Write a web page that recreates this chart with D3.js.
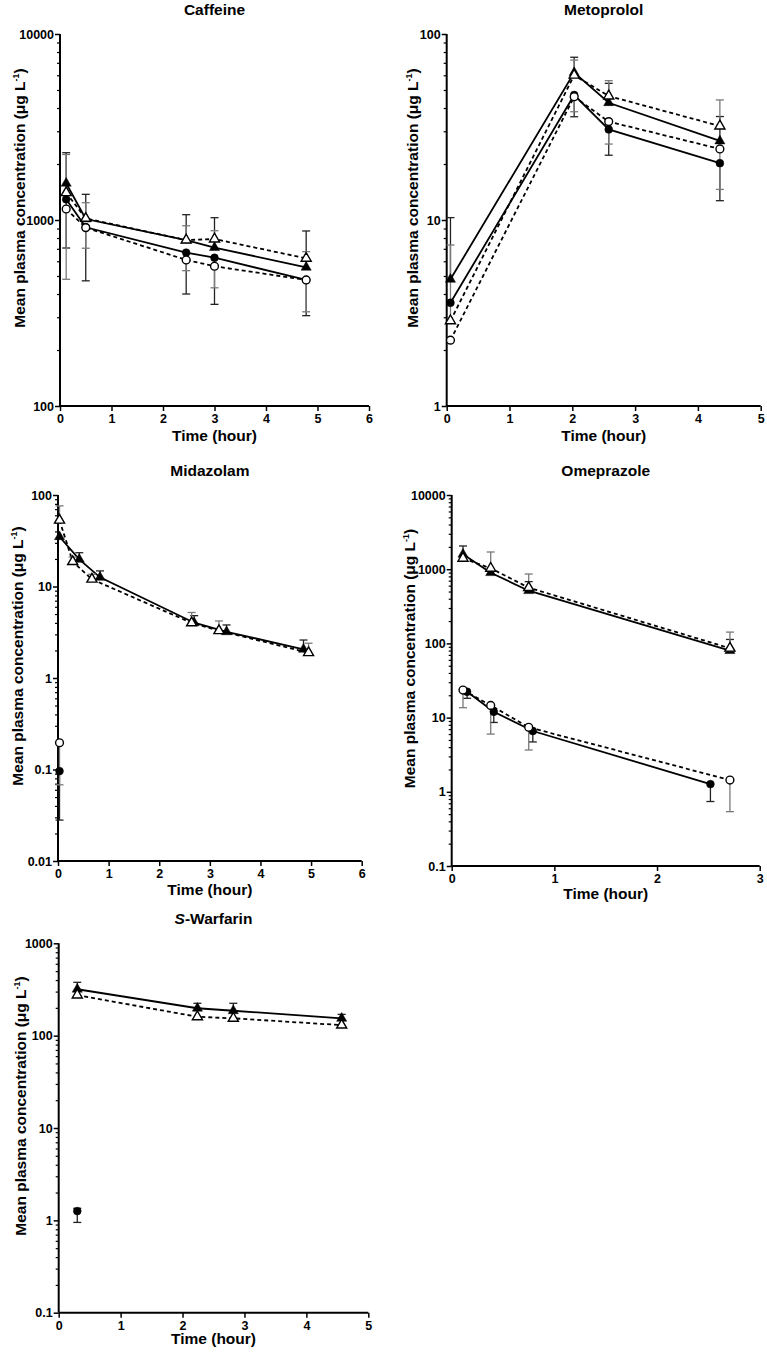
<!DOCTYPE html>
<html><head><meta charset="utf-8">
<script src="https://cdn.jsdelivr.net/npm/d3@7"></script>
<style>body{margin:0;background:#fff}svg{display:block}text{font-family:"Liberation Sans",Arial,sans-serif;font-weight:bold;fill:#000}</style>
</head><body><svg id="c" width="767" height="1352"></svg>
<script>
// ---------- DATA ----------
// Caffeine
const cafT = [0.12, 0.5, 2.45, 3.0, 4.78];
const cafFC = [1292, 914, 668, 627, 476];
const cafOC = [1146, 910, 610, 564, 476];
const cafFT = [1575, 1012, 780, 710, 557];
const cafOT = [1402, 1020, 780, 790, 622];
const cafFTHi = [2300, 1374, 1068, 1029, 873];
const cafOTHi = [2250, 1239, 931, 876, 676];
const cafFCLo = [707, 471, 400, 352, 306];
const cafOCLo = [480, 705, 534, 432, 321];
// Metoprolol
const metT = [0.06, 2.03, 2.58, 4.35];
const metFC = [3.59, 47, 30.7, 20.2];
const metOC = [2.26, 46, 33.8, 24.1];
const metFT = [4.8, 62, 42.7, 26.6];
const metOT = [2.87, 60, 46.4, 32];
const metFTHi = [10.3, 75, 54.3, 36];
const metOTHi = [7.34, 72.4, 56.1, 44.2];
const metFCLo = [null, 35.9, 22.3, 12.7];
const metOCLo = [null, 38.2, 25.6, 14.6];
// Midazolam
const midFTT = [0.03, 0.42, 0.83, 2.69, 3.33, 4.85];
const midFT = [35, 19.8, 12.6, 4.02, 3.2, 2.06];
const midFTHi = [null, 23.4, 14.8, 4.8, 3.8, 2.6];
const midOTT = [0.03, 0.29, 0.67, 2.64, 3.18, 4.95];
const midOT = [53, 18.7, 12.0, 4.0, 3.29, 1.89];
const midOTHi = [76, 21, 13.6, 5.2, 4.2, 2.4];
const midFCT = [0.03];
const midFC = [0.096];
const midFCLo = [0.028];
const midOCT = [0.03];
const midOC = [0.196];
const midOCLo = [0.068];
// Omeprazole
const omeFTT = [0.11, 0.38, 0.75, 2.71];
const omeFT = [1589, 897, 513, 79.8];
const omeFTHi = [2056, null, 680, 113];
const omeOTT = [0.11, 0.38, 0.75, 2.71];
const omeOT = [1402, 1028, 564, 86];
const omeOTHi = [null, 1706, 861, 142];
const omeFCT = [0.15, 0.41, 0.79, 2.52];
const omeFC = [22.3, 12.0, 6.6, 1.27];
const omeFCLo = [18.2, 8.6, 4.7, 0.74];
const omeOCT = [0.11, 0.38, 0.75, 2.71];
const omeOC = [23.5, 14.6, 7.4, 1.44];
const omeOCLo = [13.6, 6.0, 3.66, 0.54];
// S-Warfarin
const warT = [0.30, 2.24, 2.82, 4.57];
const warFT = [318, 198, 186, 154];
const warFTHi = [378, 224, 224, 170];
const warOT = [275, 160, 154, 130];
const warFCT = [0.30];
const warFC = [1.26];
const warFCLo = [0.95];
const warFCHi = [1.35];
// tick labels
const cafYTicks = [100, 1000, 10000], metYTicks = [1, 10, 100];
const midYTicks = [0.01, 0.1, 1, 10, 100], omeYTicks = [0.1, 1, 10, 100, 1000, 10000];
const warYTicks = [0.1, 1, 10, 100, 1000];

// ---------- LAYOUT ----------
const S = (type, x, y, hi, lo) => ({type, x, y, hi: hi || [], lo: lo || []});
const panels = [
  {title:"Caffeine", box:[60,34,369,406], xMax:6, yTicks:cafYTicks, yl:25, xtY:441,
   series:[S("FC",cafT,cafFC,null,cafFCLo),S("OC",cafT,cafOC,null,cafOCLo),S("FT",cafT,cafFT,cafFTHi),S("OT",cafT,cafOT,cafOTHi)]},
  {title:"Metoprolol", box:[446.7,34,760.7,406], xMax:5, yTicks:metYTicks, yl:418, xtY:441,
   series:[S("FC",metT,metFC,null,metFCLo),S("OC",metT,metOC,null,metOCLo),S("FT",metT,metFT,metFTHi),S("OT",metT,metOT,metOTHi)]},
  {title:"Midazolam", box:[58,495,361.7,861], xMax:6, yTicks:midYTicks, yl:23, xtY:895,
   series:[S("FC",midFCT,midFC,null,midFCLo),S("OC",midOCT,midOC,null,midOCLo),S("FT",midFTT,midFT,midFTHi),S("OT",midOTT,midOT,midOTHi)]},
  {title:"Omeprazole", box:[451.7,495,759.7,866], xMax:3, yTicks:omeYTicks, yl:415, xtY:899,
   series:[S("FC",omeFCT,omeFC,null,omeFCLo),S("OC",omeOCT,omeOC,null,omeOCLo),S("FT",omeFTT,omeFT,omeFTHi),S("OT",omeOTT,omeOT,omeOTHi)]},
  {title:"S-Warfarin", italicS:true, box:[58.7,943.3,368.3,1312.7], xMax:5, yTicks:warYTicks, yl:26, xtY:1344,
   series:[S("FC",warFCT,warFC,warFCHi,warFCLo),S("FT",warT,warFT,warFTHi),S("OT",warT,warOT)]}
];

const svg = d3.select("#c");
panels.forEach(p => {
  const [l,t,r,b] = p.box;
  const yMin = p.yTicks[0], yMax = p.yTicks[p.yTicks.length-1];
  const x = d3.scaleLinear().domain([0,p.xMax]).range([l,r]);
  const y = d3.scaleLog().domain([yMin,yMax]).range([b,t]);
  const g = svg.append("g");
  // minor ticks
  const minor = [];
  for (let i=0;i<p.yTicks.length-1;i++) for (let k=2;k<=9;k++) minor.push(p.yTicks[i]*k);
  const gm = g.append("g").attr("transform",`translate(${l},0)`)
    .call(d3.axisLeft(y).tickValues(minor).tickSize(3).tickFormat(""));
  gm.select(".domain").remove();
  gm.selectAll("line").attr("stroke","#000").attr("stroke-width",1.2);
  const gy = g.append("g").attr("transform",`translate(${l},0)`)
    .call(d3.axisLeft(y).tickValues(p.yTicks).tickSize(5).tickPadding(1).tickFormat(d=>String(+d.toPrecision(6))));
  const gx = g.append("g").attr("transform",`translate(0,${b})`)
    .call(d3.axisBottom(x).ticks(p.xMax).tickSize(5).tickPadding(3).tickFormat(d3.format("d")));
  [gy,gx].forEach(a=>{
    a.select(".domain").attr("stroke","#000").attr("stroke-width",2).attr("d", a===gy?`M0,${b}V${t}`:`M${l},0H${r}`);
    a.selectAll("line").attr("stroke","#000").attr("stroke-width",1.5);
    a.selectAll("text").attr("font-size",12.5).attr("font-family","Liberation Sans, Arial, sans-serif").attr("font-weight","bold").attr("fill","#000");
  });
  // title
  const tt = g.append("text").attr("x",(l+r)/2).attr("y",t-19).attr("text-anchor","middle").attr("font-size",15.5);
  if (p.italicS){ tt.append("tspan").attr("font-style","italic").text("S"); tt.append("tspan").text("-Warfarin"); }
  else tt.text(p.title);
  // axis titles
  g.append("text").attr("x",(l+r)/2).attr("y",p.xtY).attr("text-anchor","middle").attr("font-size",15.5).text("Time (hour)");
  const yt = g.append("text").attr("transform",`translate(${p.yl},${(t+b)/2-22}) rotate(-90)`).attr("text-anchor","middle").attr("font-size",15.5);
  yt.append("tspan").text("Mean plasma concentration (μg L");
  yt.append("tspan").attr("font-size",9).attr("dy",-6).text("-1");
  yt.append("tspan").attr("dy",6).text(")");
  // lines
  const line = d3.line().x(d=>x(d[0])).y(d=>y(d[1]));
  p.series.forEach(s=>{
    if (s.x.length<2) return;
    g.append("path").datum(s.x.map((v,i)=>[v,s.y[i]])).attr("d",line).attr("fill","none")
      .attr("stroke","#000").attr("stroke-width",1.8)
      .attr("stroke-dasharray", s.type[0]==="O" ? "4,3" : null);
  });
  // error bars
  p.series.forEach(s=>{
    const col = s.type[0]==="O" ? "#7a7a7a" : "#222";
    s.x.forEach((xv,i)=>{
      const cx = x(xv);
      [s.hi[i], s.lo[i]].forEach(e=>{
        if (e==null) return;
        g.append("line").attr("x1",cx).attr("x2",cx).attr("y1",y(s.y[i])).attr("y2",y(e)).attr("stroke",col).attr("stroke-width",1.3);
        g.append("line").attr("x1",cx-4).attr("x2",cx+4).attr("y1",y(e)).attr("y2",y(e)).attr("stroke",col).attr("stroke-width",1.3);
      });
    });
  });
  // markers
  p.series.forEach(s=>{
    const tri = s.type[1]==="T";
    const open = s.type[0]==="O";
    const sym = d3.symbol().type(tri?d3.symbolTriangle:d3.symbolCircle).size(tri?44:48);
    s.x.forEach((xv,i)=>{
      g.append("path").attr("d",sym()).attr("transform",`translate(${x(xv)},${y(s.y[i])})`)
        .attr("fill",open?"#fff":"#000").attr("stroke","#000").attr("stroke-width",open?1.4:0.5);
    });
  });
});
</script></body></html>
